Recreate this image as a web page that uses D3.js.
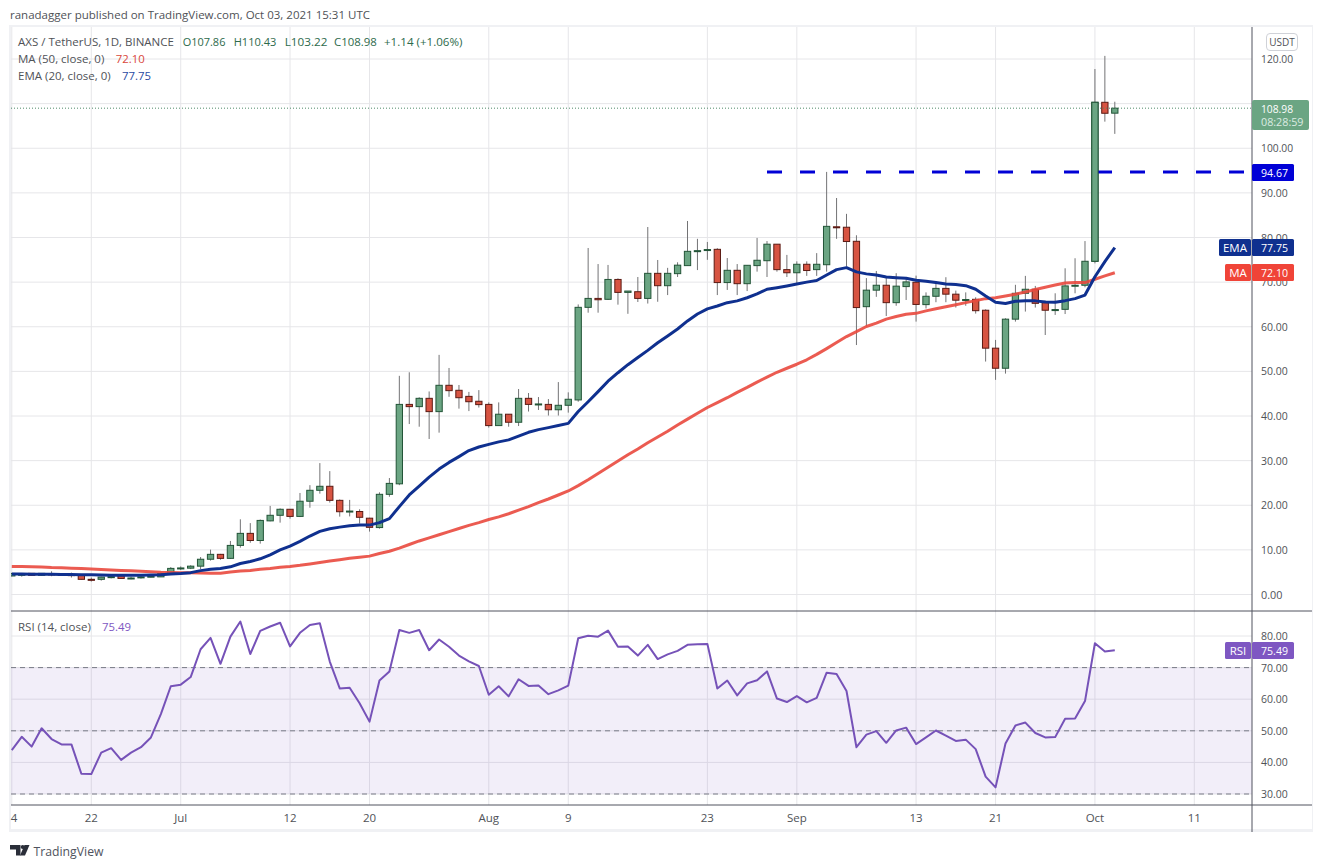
<!DOCTYPE html>
<html><head><meta charset="utf-8">
<script src="https://cdn.jsdelivr.net/npm/d3@7"></script>
<style>
html,body{margin:0;padding:0;background:#fff;}
svg{display:block;}
text{font-family:"Open Sans","Noto Sans",sans-serif;}
</style></head><body>
<svg id="c" width="1323" height="868"></svg>
<script>
// ---------- data ----------
const startDay = "2021-06-14";
const opens = [4.15,4.3,4.74,4.3,4.6,4.67,4.45,4.45,3.4,3.4,3.8,4.2,3.6,3.8,3.95,3.95,4.65,5.85,5.9,6.35,7.9,9.0,8.1,11,13.7,12.1,16.5,17.75,19.1,17.5,20.9,23.35,24.25,21.1,18.6,18.6,17.1,15,22.45,24.8,42.6,42.1,43.96,40.98,46.88,45.76,44.4,43.3,42.6,37.85,40.4,38.6,43.96,42.6,42.6,41.4,42.4,43.6,64.35,66.35,66.15,70.6,67.7,67.85,66.35,71.97,69.2,71.9,73.7,76.9,77.2,77.35,69.9,72.65,69.65,73.7,74.8,78.5,72.8,72.1,74,72.8,73.9,82.4,82.3,79.15,64.5,68.2,69.3,65.4,69,69.97,64.96,66.83,68.6,67.3,66.1,66.15,63.7,55.2,50.7,61.7,67.5,68.4,65.4,63.8,63.9,69.2,69.3,74.67,110.3,107.86];
const highs = [4.8,4.8,4.8,4.8,5.2,4.8,4.9,4.5,3.8,4.0,4.2,4.5,4.0,4.4,4.35,5.0,6.15,6.3,6.55,8.4,10.05,9.1,12,16.85,16,16.8,19.85,19.3,19.15,22.75,24.5,29.45,27.65,21.3,21.2,19.1,17.2,22.9,26.1,49,49.8,44.2,45.5,53.7,50.76,46.95,45.4,45.8,43.05,43.05,40.4,46.05,45.15,44.25,43.8,47.6,45.3,65,77.65,74.05,73.85,70.85,68,71.15,82.35,74.96,73.2,74.45,83.7,79.7,79,77.6,75.4,74.05,73.8,79.9,79.2,78.5,76.1,74.65,74.65,76.5,94.7,88.85,85.3,80.5,70.9,72.5,71.2,72,71.1,71.46,67.7,70.05,71.1,68.1,67.7,66.6,63.9,57.05,61.9,69.4,71.4,69.15,65.85,67.5,73.1,75.35,79.2,117.75,120.7,110.43];
const lows = [4.1,4.0,4.25,4.2,4.1,4.2,3.8,3.35,2.9,3.1,3.6,3.5,3.4,3.55,3.8,3.9,4.5,5.5,5.7,5.7,7.6,7.8,7.95,10.5,11.6,11.4,16.4,16.1,17,17.35,19.45,22.6,20.6,17.45,17.5,15.9,14.1,14.75,21.9,24.5,38.2,37.6,34.85,36.27,44.3,41.65,41.1,41.9,37.4,37.85,37.6,37.75,41,41.35,40.1,40.1,40.75,43.2,63.15,63.15,66,64.95,62.9,65.55,65.2,65.6,67.1,71.15,73.7,72.7,75,67.1,68.25,67.1,68,72.35,71.15,72.35,71.15,69.35,71.4,71.4,72.35,79.7,73.6,55.9,60.05,66.7,62.4,64.7,66,61.15,64.1,65.5,65.5,64.3,64.7,62.95,52.2,48.1,49.5,61.15,63.4,64.3,58.15,62.65,62.85,67.5,68.85,74.2,105.96,103.22];
const closes = [4.72,4.67,4.3,4.74,4.5,4.3,4.35,3.4,3.33,3.9,4.0,3.6,3.7,3.95,4.1,4.7,5.85,5.95,6.35,7.9,9,8.1,11,13.7,12.1,16.6,17.75,19.1,17.5,20.9,23.35,24.25,21.1,18.55,18.7,17.3,15.05,22.45,24.9,42.6,42.1,43.96,40.98,46.88,45.68,44.1,43.2,42.55,37.85,40.4,38.6,43.96,42.6,42.7,41.4,42.4,43.75,64.35,66.35,66.05,70.6,67.7,68,66.35,71.97,69.2,71.97,73.8,76.9,77.05,77.3,69.9,72.65,69.65,73.77,74.9,78.5,72.8,72.1,74,72.6,74,82.5,82.3,79.1,64.3,68.2,69.3,65.4,69.1,70.05,65,66.83,68.6,67.3,65.95,66.1,63.6,55.2,50.7,61.7,67.5,68.4,65.25,63.7,63.85,69.15,69.3,74.67,110.3,107.84,108.98];
const ema20 = [4.6,4.6,4.55,4.55,4.55,4.5,4.5,4.45,4.4,4.35,4.3,4.3,4.3,4.3,4.35,4.4,4.6,4.7,4.9,5.35,5.65,5.85,6.2,6.95,7.4,8,8.9,10,10.85,11.9,13.1,14.15,14.75,15.1,15.4,15.55,15.55,16.1,17,19.7,22.3,24.3,26.3,28.1,29.6,30.9,32.25,33.05,33.65,34.2,34.65,35.5,36.35,36.95,37.4,37.85,38.35,41,43.2,45.45,47.8,49.7,51.5,53.1,54.7,56.4,57.95,59.5,61.3,62.85,64,64.65,65.4,65.8,66.5,67.35,68.4,68.75,69.15,69.6,70,70.35,71.6,72.8,73.25,72.3,71.85,71.6,71.15,71,70.85,70.4,70.2,69.9,69.6,69.45,69.2,68.4,66.9,65.5,65.2,65.7,65.85,65.8,65.55,65.5,65.85,66.3,67.1,71.2,74.6,77.75];
const ma50 = [6.3,6.25,6.2,6.15,6.05,6,5.9,5.8,5.7,5.6,5.5,5.4,5.3,5.2,5.1,5,4.95,4.9,4.85,4.8,4.75,4.75,5.05,5.25,5.4,5.65,5.85,6.1,6.3,6.55,6.85,7.15,7.5,7.8,8.1,8.35,8.6,9.2,9.7,10.4,11.2,12,12.7,13.4,14.1,14.8,15.5,16.1,16.8,17.4,18.1,18.9,19.7,20.6,21.4,22.3,23.2,24.4,25.7,27.1,28.5,29.9,31.3,32.6,34,35.3,36.6,38,39.3,40.6,41.9,43,44.1,45.3,46.4,47.6,48.7,49.8,50.7,51.6,52.6,53.8,55.1,56.45,57.8,58.9,60.05,60.8,61.7,62.3,62.8,63,63.55,64.05,64.5,64.95,65.4,65.85,66.3,66.5,66.9,67.3,67.8,68.35,68.85,69.35,69.8,69.9,69.9,70.65,71.4,72.1];
const rsi14 = [43.9,48.1,45,50.8,47.4,45.7,45.7,36.4,36.3,43.1,44.5,40.8,43.1,44.8,47.9,55.3,64.1,64.6,67,75.8,79.4,71.2,79.8,84.6,74.3,81.6,83,84.2,76.7,81,83.5,84,71.9,63.4,63.6,58.7,52.9,65.9,68.8,81.9,81,81.9,75.5,78.9,76.6,73.8,72,70.5,61.4,64.1,60.9,66.3,64.2,64.3,61.6,62.8,64.3,79.3,80.1,79.8,81.7,76.6,76.7,73.8,77.2,72.7,74.2,75.3,77.2,77.4,77.5,63.4,65.9,61.2,65,66,68.8,60.2,59.1,61,59,60.4,68.4,68,62.6,44.8,48.8,49.9,46.2,50.1,51,45.8,47.9,50.1,48.5,46.8,47.2,44.2,35.5,32.1,46,51.7,52.6,49.3,47.9,48,53.8,53.9,59.4,77.7,75.1,75.49];
const priceTicks = [0,10,20,30,40,50,60,70,80,90,100,110,120];
const rsiTicks = [30,40,50,60,70,80];
const rsiDashed = [70,50,30];
const timeTicks = [["2021-06-14","4"],["2021-06-22","22"],["2021-07-01","Jul"],["2021-07-12","12"],["2021-07-20","20"],["2021-08-01","Aug"],["2021-08-09","9"],["2021-08-23","23"],["2021-09-01","Sep"],["2021-09-13","13"],["2021-09-21","21"],["2021-10-01","Oct"],["2021-10-11","11"]];
const resistance = {level:94.67, from:"2021-08-29"};
const lastClose = 108.98, lastEma = 77.75, lastMa = 72.10, lastRsi = 75.49;

// ---------- layout ----------
const pane={left:12,right:1252,top:27,mid:611,bottom:805,frameBottom:832,frameRight:1313,frameLeft:9};
const parse=d3.utcParse("%Y-%m-%d");
const day0=parse(startDay);
const x=d3.scaleUtc().domain([parse("2021-06-14"),parse("2021-10-11")]).range([11.8,1194.3]);
const y=d3.scaleLinear().domain([0,120]).range([594.5,59]);
const yR=d3.scaleLinear().domain([30,80]).range([794,636]);
const dates=closes.map((_,i)=>d3.utcDay.offset(day0,i));

const svg=d3.select("#c");
const UP="#6ba583",UPB="#225437",DN="#d75442",DNB="#5b1a13",WICK="#737375";
const GRID="#e6e6e9",TXT="#4f5257",AXIS="#50535e";

// frame
svg.append("rect").attr("x",pane.frameLeft).attr("y",25).attr("width",pane.frameRight-pane.frameLeft).attr("height",pane.frameBottom-25).attr("fill","#f0f1f4");
svg.append("rect").attr("x",pane.left-1).attr("y",pane.top).attr("width",pane.frameRight-pane.left-0).attr("height",pane.frameBottom-pane.top-3).attr("fill","#fff");

const defs=svg.append("defs");
defs.append("clipPath").attr("id","pClip").append("rect").attr("x",11).attr("y",pane.top).attr("width",pane.right-11).attr("height",pane.mid-pane.top);

// grid
const grid=svg.append("g");
priceTicks.forEach(t=>grid.append("line").attr("x1",11).attr("x2",pane.right).attr("y1",y(t)).attr("y2",y(t)).attr("stroke",GRID));
rsiTicks.forEach(t=>grid.append("line").attr("x1",11).attr("x2",pane.right).attr("y1",yR(t)).attr("y2",yR(t)).attr("stroke",GRID));
timeTicks.forEach(([d])=>{const X=x(parse(d));
  grid.append("line").attr("x1",X).attr("x2",X).attr("y1",pane.top).attr("y2",pane.bottom).attr("stroke",GRID);});

// candles
const gc=svg.append("g").attr("clip-path","url(#pClip)");
const bw=6.3;
const candles=gc.selectAll("g.k").data(d3.range(closes.length)).join("g");
candles.append("line").attr("x1",i=>x(dates[i])).attr("x2",i=>x(dates[i])).attr("y1",i=>y(highs[i])).attr("y2",i=>y(lows[i])).attr("stroke",WICK).attr("stroke-width",1);
candles.append("rect").attr("x",i=>x(dates[i])-bw/2).attr("width",bw)
 .attr("y",i=>y(Math.max(opens[i],closes[i])))
 .attr("height",i=>Math.max(1,Math.abs(y(opens[i])-y(closes[i]))))
 .attr("fill",i=>closes[i]>=opens[i]?UP:DN)
 .attr("stroke",i=>closes[i]>=opens[i]?UPB:DNB).attr("stroke-width",1);

// MA lines
const lineP=d3.line().x((d,i)=>x(dates[i])).y(d=>y(d)).curve(d3.curveLinear);
gc.append("path").attr("d",lineP(ma50)).attr("fill","none").attr("stroke","#e9493e").attr("stroke-width",3).attr("stroke-opacity",.9).attr("stroke-linejoin","round");
gc.append("path").attr("d",lineP(ema20)).attr("fill","none").attr("stroke","#0f308f").attr("stroke-width",3).attr("stroke-linejoin","round");

// last price dotted
svg.append("line").attr("x1",11).attr("x2",pane.right).attr("y1",y(lastClose)).attr("y2",y(lastClose)).attr("stroke","#4f8a68").attr("stroke-width",1).attr("stroke-dasharray","1 2");

// resistance dashed
svg.append("line").attr("x1",x(parse(resistance.from))).attr("x2",pane.right).attr("y1",y(resistance.level)).attr("y2",y(resistance.level)).attr("stroke","#0000d6").attr("stroke-width",3).attr("stroke-dasharray","15 18");

// the big candle sits in front of the dashed line
const idx=109;
svg.append("rect").attr("x",x(dates[idx])-bw/2).attr("width",bw).attr("y",y(closes[idx])).attr("height",y(opens[idx])-y(closes[idx])).attr("fill",UP).attr("stroke",UPB);

// RSI band
svg.append("rect").attr("x",11).attr("width",pane.right-11).attr("y",yR(70)).attr("height",yR(30)-yR(70)).attr("fill","#7e57c2").attr("fill-opacity",.1);
rsiDashed.forEach(t=>svg.append("line").attr("x1",11).attr("x2",pane.right).attr("y1",yR(t)).attr("y2",yR(t)).attr("stroke","#787b86").attr("stroke-dasharray","5 4"));
const lineR=d3.line().x((d,i)=>x(dates[i])).y(d=>yR(d));
svg.append("path").attr("d",lineR(rsi14)).attr("fill","none").attr("stroke","#7652b8").attr("stroke-width",2).attr("stroke-linejoin","round");

// pane borders
const bord=(x1,y1,x2,y2,c)=>svg.append("line").attr("x1",x1).attr("y1",y1).attr("x2",x2).attr("y2",y2).attr("stroke",c||AXIS).attr("stroke-width",1);
bord(11,pane.mid,pane.frameRight-1,pane.mid);
bord(11,pane.bottom,pane.frameRight-1,pane.bottom);
bord(pane.right,pane.top,pane.right,pane.frameBottom);

// axis text (numbers squeezed to the reference's narrower digits)
const label=(s,X,Y,o={})=>{const t=svg.append("text").attr("x",X).attr("y",Y).attr("dy",".35em").attr("font-size",o.size||11.5).attr("fill",o.fill||TXT).attr("text-anchor",o.anchor||"start").attr("font-weight",o.w||400).text(s);
  if(o.len) t.attr("textLength",o.len).attr("lengthAdjust","spacingAndGlyphs");return t;};
const numLen=s=>s.length*5.35;
const fmt=d3.format(".2f");
priceTicks.forEach(t=>{const s=fmt(t);label(s,1261,y(t),{len:numLen(s)});});
rsiTicks.forEach(t=>{const s=fmt(t);label(s,1261,yR(t),{len:numLen(s)});});
timeTicks.forEach(([d,s])=>{const X=s==="4"?14:x(parse(d));
  label(s,X,818,{anchor:"middle"});
});

// tags
const tag=(X,Y,w,h,c,r)=>svg.append("rect").attr("x",X).attr("y",Y).attr("width",w).attr("height",h).attr("fill",c).attr("rx",r||1.5);
tag(1252,100,57,30,UP,2);
label(fmt(lastClose),1261,109,{fill:"#fff",len:32});
label("08:28:59",1261,122,{fill:"#dcebe2",len:42.5});
tag(1252,164,42,17,"#0000d6");
label(fmt(resistance.level),1261,y(resistance.level)+.5,{fill:"#fff",len:27});
tag(1219,239,32,17,"#0f308f");tag(1252,239,42,17,"#0f308f");
label("EMA",1235,247.5,{fill:"#fff",anchor:"middle"});
label(fmt(lastEma),1261,247.5,{fill:"#fff",len:27});
tag(1225,264,26,17,"#f04438");tag(1252,264,42,17,"#f04438");
label("MA",1238,272.5,{fill:"#fff",anchor:"middle"});
label(fmt(lastMa),1261,272.5,{fill:"#fff",len:27});
tag(1225,642,26,17,"#7e57c2");tag(1252,642,42,17,"#7e57c2");
label("RSI",1238,650.5,{fill:"#fff",anchor:"middle"});
label(fmt(lastRsi),1261,650.5,{fill:"#fff",len:27});
svg.append("rect").attr("x",1266.5).attr("y",33.5).attr("width",31).attr("height",17).attr("rx",3.5).attr("fill","#fff").attr("stroke","#d0d2d8");
label("USDT",1282,42,{anchor:"middle",size:10,fill:"#4f5257"});

// header + legends
label("ranadagger published on TradingView.com, Oct 03, 2021 15:31 UTC",10,15,{size:11.5,len:360});
const G="#2d6a4b";
label("AXS / TetherUS, 1D, BINANCE",18,42);
[["O107.86",182.7],["H110.43",233.7],["L103.22",284.7],["C108.98",334],["+1.14 (+1.06%)",384]].forEach(([s,X])=>label(s,X,42,{fill:G,len:s.length*(s[0]==="+"?5.6:6.1)}));
label("MA (50, close, 0)",18,59);
label(fmt(lastMa),115.7,59,{fill:"#d9473b",len:29});
label("EMA (20, close, 0)",18,76);
label(fmt(lastEma),122,76,{fill:"#2a4aa3",len:29});
label("RSI (14, close)",18,627);
label(fmt(lastRsi),102,627,{fill:"#7e57c2",len:29});

// logo
const lg=svg.append("g").attr("fill","#2a2e39");
lg.append("path").attr("d","M10 845h10.5v10.5h-4.5v-6H10z");
lg.append("circle").attr("cx",22.7).attr("cy",847).attr("r",2);
lg.append("path").attr("d","M24.5 845h5l-4.5 10.5h-5z");
label("TradingView",33.5,851,{size:13.5,fill:"#50535e",len:70});
</script>
</body></html>
